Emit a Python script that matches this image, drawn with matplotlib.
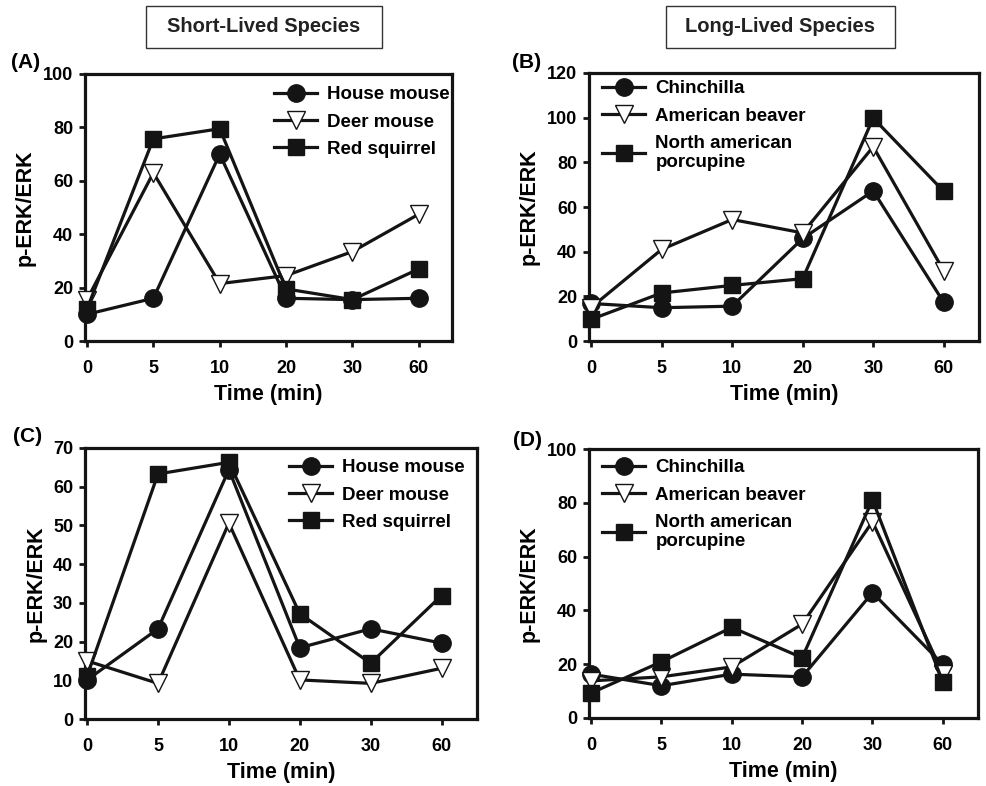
import numpy as np
import matplotlib
matplotlib.use("Agg")
import matplotlib.pyplot as plt
from matplotlib.patches import Rectangle

# ------------------------------------------------------------------
# Data
# ------------------------------------------------------------------
time_labels = ["0", "5", "10", "20", "30", "60"]

short_names = ["House mouse", "Deer mouse", "Red squirrel"]
long_names = ["Chinchilla", "American beaver", "North american\nporcupine"]

# Panel A: short-lived species
a_house = [10, 16, 70, 16, 15.5, 16]
a_deer = [15.5, 63, 21.5, 24.5, 33.5, 47.5]
a_squirrel = [12, 75.7, 79.5, 19.5, 15.5, 27]

# Panel B: long-lived species
b_chin = [16.8, 14.9, 15.6, 45.9, 67.2, 17.3]
b_beaver = [15, 41, 54.4, 48.4, 87, 31.4]
b_porc = [9.7, 21.5, 24.9, 27.9, 99.8, 67]

# Panel C: short-lived species
c_house = [10.1, 23.3, 64.4, 18.4, 23.3, 19.6]
c_deer = [15, 9.2, 50.6, 10.1, 9.2, 13.1]
c_squirrel = [11.1, 63.3, 66.3, 27.2, 14.4, 31.9]

# Panel D: long-lived species
d_chin = [16.3, 12, 16.3, 15.3, 46.6, 19.9]
d_beaver = [13.8, 15.3, 19, 34.9, 73, 16.5]
d_porc = [9.3, 20.9, 33.7, 22.4, 81.1, 13.4]

# ------------------------------------------------------------------
# Style
# ------------------------------------------------------------------
plt.rcParams["font.family"] = ["Liberation Sans", "DejaVu Sans"]
plt.rcParams["font.weight"] = "bold"
ink = "#141414"
styles = [
    dict(marker="o", ms=12.5, mfc=ink, mec=ink),
    dict(marker="v", ms=12.5, mfc="white", mec=ink, mew=1.0),
    dict(marker="s", ms=11.5, mfc=ink, mec=ink),
]

W, H = 987, 786
fig = plt.figure(figsize=(W / 100, H / 100), dpi=100)


def px_axes(left, right, top, bottom):
    return fig.add_axes([left / W, 1 - bottom / H, (right - left) / W, (bottom - top) / H])


def draw_panel(ax, series, names, ymax, ystep, leg_anchor, tag, tag_xy):
    x = np.arange(len(time_labels))
    for vals, name, st in zip(series, names, styles):
        ax.plot(x, vals, color=ink, lw=2.3, label=name, clip_on=False, zorder=3, **st)
    ax.set_xlim(-0.03, 5.5)
    ax.set_ylim(0, ymax)
    ax.set_xticks(x)
    ax.set_xticklabels(time_labels)
    ax.set_yticks(np.arange(0, ymax + 1, ystep))
    for sp in ax.spines.values():
        sp.set_linewidth(2.3)
        sp.set_color(ink)
    ax.tick_params(direction="out", length=4.5, width=2, color=ink, labelsize=13)
    ax.tick_params(axis="x", pad=9)
    ax.tick_params(axis="y", pad=4)
    for lab in ax.get_xticklabels() + ax.get_yticklabels():
        lab.set_fontweight("bold")
    ax.set_xlabel("Time (min)", fontsize=15.5, fontweight="bold", labelpad=5)
    ax.set_ylabel("p-ERK/ERK", fontsize=15.5, fontweight="bold", labelpad=5)
    leg = ax.legend(loc="upper left", bbox_to_anchor=leg_anchor, frameon=False,
                    fontsize=13.5, handlelength=2.3, handletextpad=0.55,
                    labelspacing=0.55, borderpad=0, borderaxespad=0)
    for t in leg.get_texts():
        t.set_fontweight("bold")
    fig.text(tag_xy[0] / W, 1 - tag_xy[1] / H, tag, fontsize=15, fontweight="bold",
             ha="center", va="center")


axA = px_axes(85, 452, 74, 341)
axB = px_axes(589, 979, 73, 341)
axC = px_axes(85, 477, 448, 719)
axD = px_axes(589, 978, 449, 718)

draw_panel(axA, [a_house, a_deer, a_squirrel], short_names, 100, 20,
           ((274 - 85) / 367, (341 - 86) / 267), "(A)", (26, 63))
draw_panel(axB, [b_chin, b_beaver, b_porc], long_names, 120, 20,
           ((602 - 589) / 390, (341 - 80) / 268), "(B)", (527, 62))
draw_panel(axC, [c_house, c_deer, c_squirrel], short_names, 70, 10,
           ((289 - 85) / 392, (719 - 459) / 271), "(C)", (28, 437))
draw_panel(axD, [d_chin, d_beaver, d_porc], long_names, 100, 20,
           ((602 - 589) / 389, (718 - 459) / 269), "(D)", (527, 440))

# Header boxes
for (x0, x1), label in [((146, 382), "Short-Lived Species"), ((666, 895), "Long-Lived Species")]:
    fig.patches.append(Rectangle((x0 / W, 1 - 48 / H), (x1 - x0) / W, 42 / H,
                                 transform=fig.transFigure, fill=False,
                                 edgecolor="#333333", lw=1.0))
    fig.text((x0 + x1) / 2 / W, 1 - 27 / H, label, fontsize=14.5, fontweight="bold",
             ha="center", va="center", color="#222222")

fig.savefig("out.png", dpi=100)
